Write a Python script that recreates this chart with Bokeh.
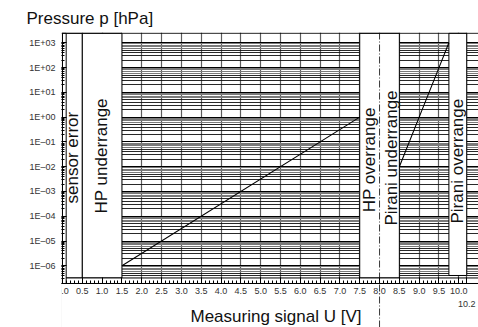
import numpy as np
from bokeh.plotting import figure
from bokeh.models import Range1d, FixedTicker, CustomJSTickFormatter, Label, Span, Grid
from bokeh.embed import file_html
from bokeh.resources import INLINE

# ---------------- data ----------------
hp_U = [1.5, 7.5]
hp_p = [1e-6, 1.0]

pirani_U = [8.5, 9.0, 9.5, 9.75]
pirani_p = [1e-2, 1.0, 1e2, 1e3]

band_left = [0.0, 0.5, 7.5, 9.75]
band_right = [0.5, 1.5, 8.5, 10.2]
switch_U = 8.0

band_labels = ["sensor error", "HP underrange", "HP overrange",
               "Pirani underrange", "Pirani overrange"]

x_ticks = [0.0, 0.5, 1.0, 1.5, 2.0, 2.5, 3.0, 3.5, 4.0, 4.5, 5.0, 5.5, 6.0,
           6.5, 7.0, 7.5, 8.0, 8.5, 9.0, 9.5, 10.0, 10.2]
x_tick_labels = ["0.0", "0.5", "1.0", "1.5", "2.0", "2.5", "3.0", "3.5", "4.0",
                 "4.5", "5.0", "5.5", "6.0", "6.5", "7.0", "7.5", "8.0", "8.5",
                 "9.0", "9.5", "10.0", ""]
x_end_label = "10.2"

y_ticks = [1e-6, 1e-5, 1e-4, 1e-3, 1e-2, 1e-1, 1e0, 1e1, 1e2, 1e3]
y_tick_labels = ["1E\u201306", "1E\u201305", "1E\u201304", "1E\u201303", "1E\u201302",
                 "1E\u201301", "1E+00", "1E+01", "1E+02", "1E+03"]

title_text = "Pressure p [hPa]"
x_label_text = "Measuring signal U [V]"

# ---------------- layout constants ----------------
FONT = "Liberation Sans"
x_start, x_end = -0.0252, 10.497
y_start, y_end = 10 ** -8.489, 10 ** 3.4157
top_edge = 10 ** 3.387
ruler_bottom = 10 ** -6.713
ruler_top = 10 ** -6.49
ruler_left = 0.093
pir_over_bottom = 10 ** -6.39

p = figure(width=478, height=327, x_range=Range1d(x_start, x_end),
           y_range=Range1d(y_start, y_end), y_axis_type="log",
           output_backend="svg", toolbar_location=None,
           min_border_left=61, min_border_right=0, min_border_top=32,
           min_border_bottom=0)
p.outline_line_color = None
p.background_fill_color = "white"
p.border_fill_color = "white"

p.title.text = title_text
p.title.align = "left"
p.title.offset = -35
p.title.standoff = 10
p.title.text_font = FONT
p.title.text_font_size = "17px"
p.title.text_font_style = "normal"
p.title.text_color = "#111111"


def log_minor(ks):
    out = []
    for n in range(-7, 3):
        for k in ks:
            v = k * 10.0 ** n
            if ruler_bottom < v < top_edge:
                out.append(v)
    return out


# y ticker (ruler ticks at 2..9 of every decade)
yt = FixedTicker(ticks=y_ticks, minor_ticks=log_minor([2, 3, 4, 5, 6, 7, 8, 9]))
yax = p.yaxis[0]
yax.ticker = yt
yax.formatter = CustomJSTickFormatter(
    args=dict(tvals=y_ticks, tlabels=y_tick_labels),
    code="""
    for (let i = 0; i < tvals.length; i++) {
        if (Math.abs(Math.log10(tvals[i]) - Math.log10(tick)) < 1e-6) return tlabels[i];
    }
    return "";
    """)
yax.axis_line_color = None
yax.major_tick_in = 5
yax.major_tick_out = 0
yax.minor_tick_in = 3
yax.minor_tick_out = 0
yax.major_tick_line_color = "black"
yax.minor_tick_line_color = "black"
yax.major_label_standoff = 6
yax.major_label_text_font_size = "9px"
yax.major_label_text_font = FONT
yax.major_label_text_color = "#333333"

# x axis at the ruler bottom
xt = FixedTicker(ticks=x_ticks, minor_ticks=[i / 10 for i in range(0, 103)])
xax = p.xaxis[0]
xax.ticker = xt
xax.fixed_location = ruler_bottom
xax.formatter = CustomJSTickFormatter(
    args=dict(tvals=x_ticks, tlabels=x_tick_labels),
    code="""
    for (let i = 0; i < tvals.length; i++) {
        if (Math.abs(tvals[i] - tick) < 1e-9) return tlabels[i];
    }
    return "";
    """)
xax.axis_line_color = "black"
xax.major_tick_in = 6
xax.major_tick_out = 0
xax.minor_tick_in = 3
xax.minor_tick_out = 0
xax.major_tick_line_color = "black"
xax.minor_tick_line_color = "black"
xax.major_label_standoff = 5
xax.major_label_text_font_size = "9px"
xax.major_label_text_font = FONT
xax.major_label_text_color = "#333333"

# grids
p.xgrid.ticker = xt
p.xgrid.grid_line_color = "#5e5e5e"
p.xgrid.grid_line_width = 1.2
p.ygrid.ticker = FixedTicker(ticks=y_ticks, minor_ticks=log_minor([2, 3, 4, 5]))
p.ygrid.grid_line_color = "black"
p.ygrid.grid_line_width = 1
p.ygrid.minor_grid_line_color = "#111111"
p.ygrid.minor_grid_line_width = 0.9
dense_grid = Grid(dimension=1, ticker=FixedTicker(ticks=log_minor([6, 7, 8, 9])),
                  grid_line_color="#7a7a7a", grid_line_width=1)
p.add_layout(dense_grid)

# white area below the ruler
p.quad(left=[x_start], right=[x_end], bottom=[y_start], top=[ruler_bottom],
       fill_color="white", line_color=None)

# white bands
band_bottom = [ruler_top, ruler_top, ruler_top, pir_over_bottom]
p.quad(left=band_left, right=band_right, bottom=band_bottom,
       top=[top_edge] * len(band_left), fill_color="white",
       line_color="black", line_width=1)

# rulers
p.quad(left=[0.0], right=[x_end + 0.2], bottom=[ruler_bottom], top=[ruler_top],
       fill_color="white", line_color="black", line_width=1)
p.quad(left=[0.0], right=[ruler_left], bottom=[ruler_bottom], top=[top_edge],
       fill_color="white", line_color="black", line_width=1)

# characteristic curves
p.line(hp_U, hp_p, line_color="black", line_width=1.1)
p.line(pirani_U, pirani_p, line_color="black", line_width=1.1)

# switch line
p.line([switch_U, switch_U], [y_start, top_edge], line_color="#222222",
       line_width=0.9, line_dash="7 2 1 2")

p.add_layout(Span(location=top_edge, dimension="width", line_color="black",
                  line_width=1))

# band labels (anchor = start of the rotated text baseline)
label_pos = [(0.25, 3.3e-4), (0.984, 1.3e-4), (7.75, 1.46e-4),
             (8.29, 4.2e-5), (9.97, 5.1e-5)]
for txt, (lx, ly) in zip(band_labels, label_pos):
    p.add_layout(Label(x=lx, y=ly, text=txt, angle=np.pi / 2,
                       text_align="left", text_baseline="alphabetic",
                       text_font=FONT, text_font_size="17px",
                       text_color="#111111"))

p.add_layout(Label(x=5.387, y=10 ** -8.045, text=x_label_text, text_align="center",
                   text_baseline="alphabetic", text_font=FONT,
                   text_font_size="17px", text_color="#111111"))
p.add_layout(Label(x=10.2, y=10 ** -7.56, text=x_end_label, text_align="center",
                   text_baseline="middle", text_font=FONT,
                   text_font_size="9px", text_color="#333333"))

open("out.html", "w").write(file_html(p, INLINE))
